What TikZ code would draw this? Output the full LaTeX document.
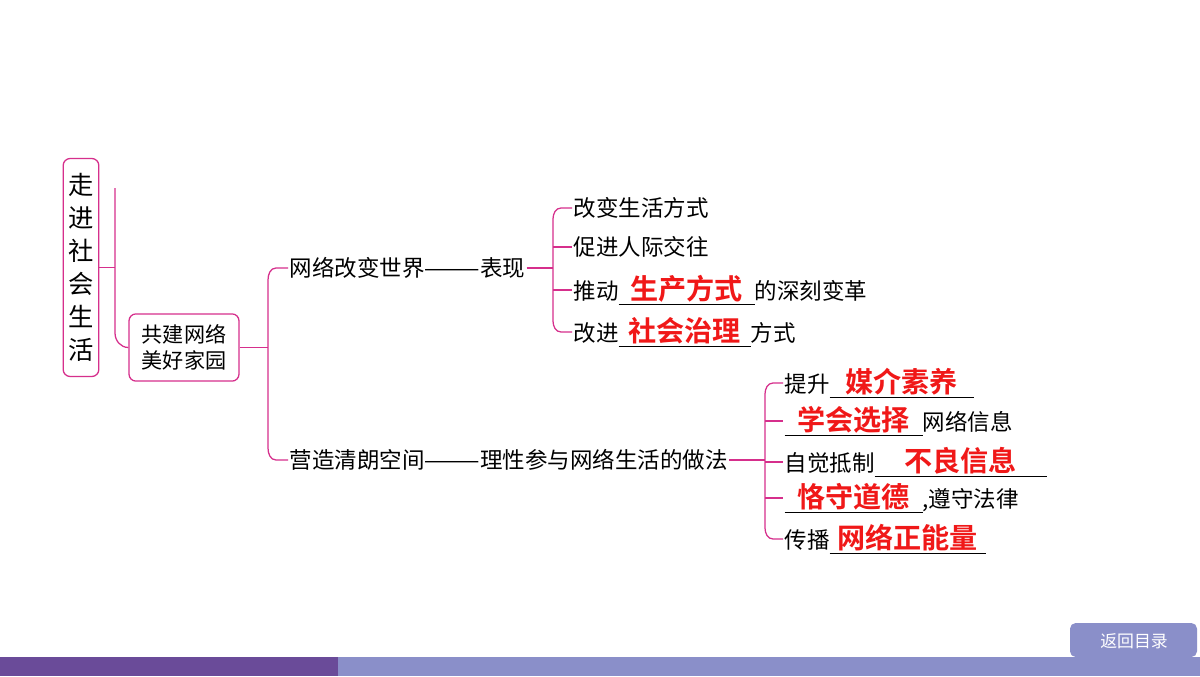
\documentclass[tikz,border=0pt]{standalone}
\usepackage{fontspec}
\setmainfont{Noto Sans CJK SC}[BoldFont={* Bold}]
\usetikzlibrary{positioning}
\definecolor{mag}{HTML}{D62F8C}
\definecolor{darkbar}{HTML}{6A4B99}
\definecolor{lightbar}{HTML}{8A8FC9}
\definecolor{ansred}{HTML}{F01818}
\newcommand{\ans}[2]{\underline{\makebox[#1]{\textcolor{ansred}{\fontsize{20}{20}\selectfont\bfseries #2}}}}
\tikzset{
  box/.style={draw=mag, line width=0.9pt, rounded corners=5pt, align=center, inner sep=2pt},
  item/.style={anchor=west, font=\fontsize{16}{16}\selectfont, inner sep=1pt},
  link/.style={draw=mag, line width=0.9pt}
}
\begin{document}
\begin{tikzpicture}[x=0.025cm, y=-0.025cm]
\useasboundingbox (0,0) rectangle (1200,676);
\fill[white] (0,0) rectangle (1200,676);
% bottom bar
\fill[darkbar] (0,657) rectangle (338,676);
\fill[lightbar] (338,657) rectangle (1200,676);
\fill[lightbar, rounded corners=4pt] (1070,657) -- (1070,623) -- (1197,623) -- (1197,657) -- cycle;
\node[text=white, font=\fontsize{12}{14}\selectfont] (back) at (1134,641) {返回目录};
% level 1 and 2
\node[box, text width=0.75cm, minimum height=5.45cm, font=\fontsize{18}{23.5}\selectfont] (root) at (81,267.5) {走\\进\\社\\会\\生\\活};
\node[box, font=\fontsize{15}{18}\selectfont, minimum width=2.75cm, minimum height=1.68cm] (net) at (184,347.5) {共建网络\\美好家园};
\coordinate (r1) at (115,267.5);
\draw[link] (root.east |- r1) -- (r1);
\draw[link] (115,188) -- (115,333) to[out=-90, in=180] (net.west);
% level 3
\node[item] (chg) at (288,268) {网络改变世界———表现};
\node[item] (bld) at (288,460) {营造清朗空间———理性参与网络生活的做法};
\draw[link] (net.east) -- (268,347.5);
\draw[link] (chg.west) -- (276,268) to[out=180, in=90] (268,280) -- (268,448) to[out=-90, in=180] (276,460) -- (bld.west);
% level 4, change
\node[item] (a1) at (572,208) {改变生活方式};
\node[item] (a2) at (572,247) {促进人际交往};
\node[item] (a3) at (572,290) {推动\ans{3.4cm}{生产方式}的深刻变革};
\node[item] (a4) at (572,332) {改进\ans{3.3cm}{社会治理}方式};
\draw[link] (chg.east) -- (553,268);
\draw[link] (a1.west) -- (561,208) to[out=180, in=90] (553,219) -- (553,321) to[out=-90, in=180] (561,332) -- (a4.west);
\draw[link] (553,247) -- (a2.west);
\draw[link] (553,290) -- (a3.west);
% level 4, build
\node[item] (b1) at (783,383) {提升\ans{3.6cm}{媒介素养}};
\node[item] (b2) at (783,421) {\ans{3.45cm}{学会选择}网络信息};
\node[item] (b3) at (783,462) {自觉抵制\ans{4.3cm}{不良信息}};
\node[item] (b4) at (783,498) {\ans{3.45cm}{恪守道德},遵守法律};
\node[item] (b5) at (783,539) {传播\ans{3.9cm}{网络正能量}};
\draw[link] (bld.east) -- (765,460);
\draw[link] (b1.west) -- (773,383) to[out=180, in=90] (765,394) -- (765,528) to[out=-90, in=180] (773,539) -- (b5.west);
\draw[link] (765,421) -- (b2.west);
\draw[link] (765,462) -- (b3.west);
\draw[link] (765,498) -- (b4.west);
\end{tikzpicture}
\end{document}
